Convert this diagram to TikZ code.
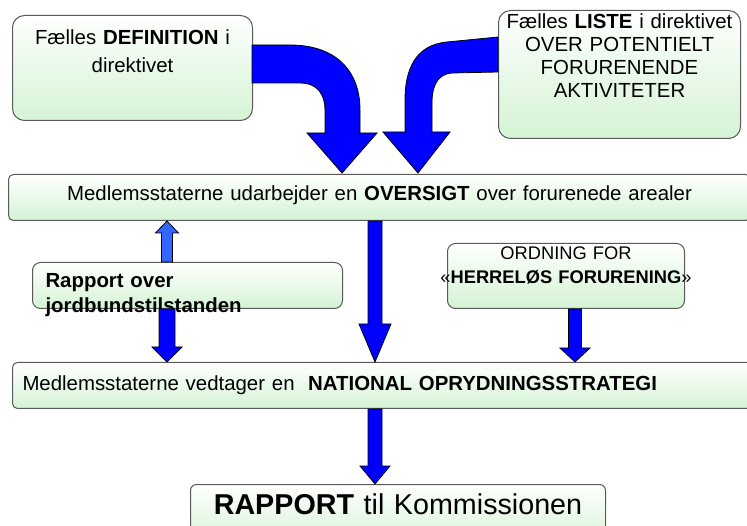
\documentclass[tikz,border=0pt]{standalone}
\usepackage{fontspec}
\setmainfont{Liberation Sans}
\usetikzlibrary{calc,positioning}
\definecolor{boxgreen}{RGB}{212,243,212}
\definecolor{arrowblue}{RGB}{0,0,255}
\definecolor{lightblue}{RGB}{51,102,255}
\tikzstyle{panel}=[draw=black!65,line width=1pt,top color=white,bottom color=boxgreen,inner sep=0pt,anchor=north west]
\tikzstyle{fatarrow}=[fill=arrowblue,draw=black,line width=0.8pt,line join=miter]
% straight block arrow: [style]{start}{tip}{shaft half}{head half}{head length}
\newcommand\blockarrow[6][]{%
\path (#3) coordinate (ba-t) (#2) coordinate (ba-s);
\path ($(ba-t)!#6!(ba-s)$) coordinate (ba-h);
\draw[fatarrow,#1] ($(ba-s)!#4!90:(ba-t)$) -- ($(ba-h)!#4!-90:(ba-s)$) -- ($(ba-h)!#5!-90:(ba-s)$) -- (ba-t)
 -- ($(ba-h)!#5!90:(ba-s)$) -- ($(ba-h)!#4!90:(ba-s)$) -- ($(ba-s)!#4!-90:(ba-t)$) -- cycle;}

\begin{document}
\begin{tikzpicture}[x=1pt,y=-1pt]
\useasboundingbox (0,0) rectangle (747,526);
\clip (0,0) rectangle (747,526);
\node[panel,rounded corners=12pt,text width=240pt,align=center,text height=29pt,text depth=76pt,font=\fontsize{20.4}{28}\selectfont] (D) at (12,15) {Fælles \textbf{DEFINITION} i\\direktivet};
\node[panel,rounded corners=12pt,text width=242pt,align=center,text height=17.6pt,text depth=110.4pt,font=\fontsize{20.4}{23}\selectfont] (L) at (498,10) {Fælles \textbf{LISTE} i direktivet\\OVER POTENTIELT\\FORURENENDE\\AKTIVITETER};
\node[panel,rounded corners=5pt,text width=742pt,align=center,text height=26pt,text depth=20pt,font=\fontsize{20.4}{24}\selectfont] (O) at (8,174) {Medlemsstaterne udarbejder en \textbf{OVERSIGT} over forurenede arealer};
\node[panel,rounded corners=8pt,text width=284pt,inner xsep=13pt,align=left,text height=25pt,text depth=21pt,font=\fontsize{20.4}{25}\selectfont\bfseries] (R) at (32,262) {Rapport over\\jordbundstilstanden};
\node[panel,rounded corners=8pt,text width=237pt,align=center,text height=16.5pt,text depth=48.5pt,font=\fontsize{18.3}{24}\selectfont] (H) at (447,243) {ORDNING FOR\\\makebox[\linewidth]{«\textbf{HERRELØS FORURENING}»}};
\node[panel,rounded corners=5pt,text width=728pt,inner xsep=10pt,align=left,text height=28pt,text depth=18pt,font=\fontsize{20.4}{24}\selectfont] (N) at (12,362) {Medlemsstaterne vedtager en \ \textbf{NATIONAL OPRYDNINGSSTRATEGI}};
\node[panel,rounded corners=6pt,text width=415pt,align=center,text height=29.5pt,text depth=30.5pt,font=\fontsize{28.7}{32}\selectfont] (K) at (190,484) {\textbf{RAPPORT} til Kommissionen};

\coordinate (c1) at (167,0);
\coordinate (c2) at (375,0);
\coordinate (c3) at (575,0);

\draw[fatarrow] (252,45) -- (290,45) .. controls (335,45) and (360,70) .. (360,110) -- (360,133) -- (377,133) -- (342,173) -- (307,133) -- (325,133) -- (325,110) .. controls (325,95) and (318,83) .. (300,83) -- (252,83) -- cycle;
\draw[fatarrow] (498,37) -- (447,42) .. controls (415,45) and (405,70) .. (405,100) -- (405,132) -- (383,132) -- (418,173) -- (450,132) -- (432,132) -- (432,103) .. controls (432,85) and (438,74) .. (452,73) -- (498,72) -- cycle;

\blockarrow[fill=lightblue]{R.north -| c1}{O.south -| c1}{5.5pt}{11.5pt}{12pt}
\blockarrow{R.south -| c1}{N.north -| c1}{8pt}{15pt}{15pt}
\blockarrow{O.south -| c2}{N.north -| c2}{7pt}{16pt}{38pt}
\blockarrow{H.south -| c3}{N.north -| c3}{6.5pt}{15pt}{14pt}
\blockarrow{N.south -| c2}{K.north -| c2}{7pt}{15pt}{18pt}
\end{tikzpicture}
\end{document}
